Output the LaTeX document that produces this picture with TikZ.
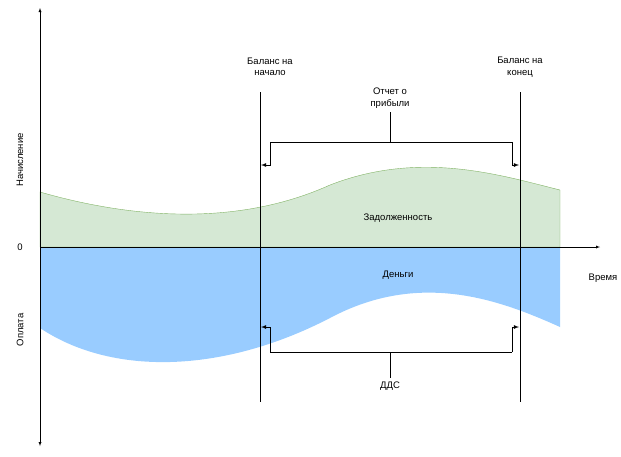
\documentclass[tikz,border=0pt]{standalone}
\usepackage{fontspec}
\setmainfont{Liberation Sans}
\usepackage{tikz}

\begin{document}
\begin{tikzpicture}[x=1pt,y=-1pt,every node/.append style={font=\fontsize{9.5}{11.5}\selectfont, align=center}]
        \useasboundingbox (0,0) rectangle (621,456);
        % areas
        \fill [fill={rgb,255:red,213;green,232;blue,212}, draw={rgb,255:red,130;green,179;blue,102}]
            (40,247) -- (40,192) .. controls (120,215) and (230,230) .. (330,185)
            .. controls (420,150) and (500,175) .. (560,190) -- (560,247) -- cycle;
        \fill [fill={rgb,255:red,153;green,204;blue,255}]
            (40,247) -- (40,328) .. controls (110,375) and (220,375) .. (330,318)
            .. controls (420,270) and (500,300) .. (560,327) -- (560,247) -- cycle;

        \coordinate (Ytop) at (40,8);
        \coordinate (Ybot) at (40,446);
        \coordinate (X0) at (40,247);
        \coordinate (Xend) at (600,247);
        \draw [latex-latex] (Ytop) -- (Ybot);
        \draw [-latex] (X0) -- (Xend);

        \node (zero) at (20,247) {0};
        \node [rotate=90] (nach) at (20,160) {Начисление};
        \node [rotate=90] (opl) at (20,330) {Оплата};
        \node (time) at (603,278) {Время};
        \node (debt) at (398,218) {Задолженность};
        \node (money) at (398,275) {Деньги};

        % balances
        \coordinate (B1t) at (260,92);
        \coordinate (B1b) at (260,402);
        \coordinate (B2t) at (520,92);
        \coordinate (B2b) at (520,402);
        \draw [thick] (B1t) -- (B1b);
        \draw [thick] (B2t) -- (B2b);
        \node (bstart) at (270,67) {Баланс на\\начало};
        \node (bend) at (520,67) {Баланс на\\конец};

        % brackets
        \node (pnl) at (390,98) {Отчет о\\прибыли};
        \node (cf) at (390,386) {ДДС};
        \coordinate (P1) at (270,142);
        \coordinate (P2) at (512,142);
        \coordinate (P1a) at (261,165);
        \coordinate (P2a) at (519,165);
        \coordinate (Pm) at (390,142);
        \draw [thick, -latex] (P1) |- (P1a);
        \draw [thick, -latex] (P2) |- (P2a);
        \draw [thick] (P1) -- (P2);
        \draw [thick] (Pm) -- (pnl);
        \coordinate (C1) at (270,352);
        \coordinate (C2) at (512,352);
        \coordinate (C1a) at (261,327);
        \coordinate (C2a) at (519,327);
        \coordinate (Cm) at (390,352);
        \draw [thick, -latex] (C1) |- (C1a);
        \draw [thick, -latex] (C2) |- (C2a);
        \draw [thick] (C1) -- (C2);
        \draw [thick] (Cm) -- (cf);
    \end{tikzpicture}
\end{document}
